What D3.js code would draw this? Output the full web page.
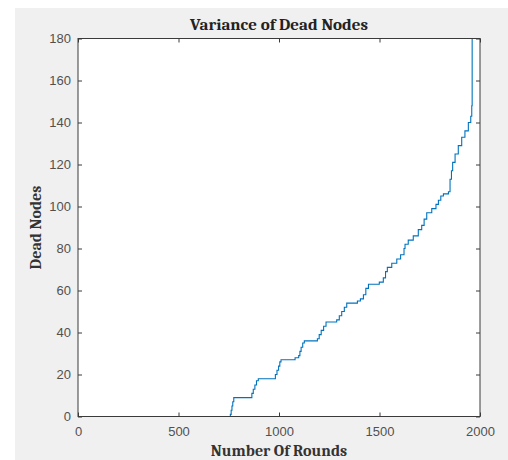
<!DOCTYPE html>
<html><head><meta charset="utf-8">
<script src="https://cdn.jsdelivr.net/npm/d3@7"></script>
<style>
html,body{margin:0;padding:0;background:#fff;}
svg{display:block;}
</style></head>
<body>
<svg id="chart" width="508" height="460"></svg>
<script>
// Data (step breakpoints: round -> cumulative dead nodes)
const rounds = [0, 756, 758, 762, 766, 770, 775, 859, 865, 872, 880, 888, 897, 975, 982, 990, 998, 1004, 1010,
  1080, 1098, 1104, 1110, 1118, 1126, 1191, 1200, 1210, 1222, 1234, 1287, 1300, 1312, 1325, 1337,
  1390, 1405, 1420, 1432, 1445, 1499, 1519, 1530, 1539, 1561, 1586, 1605, 1622, 1627, 1643, 1668,
  1693, 1710, 1722, 1735, 1760, 1781, 1793, 1805, 1818, 1843, 1851, 1858, 1864, 1876, 1892, 1909,
  1925, 1942, 1954, 1959, 1961];
const deadNodes = [0, 0, 1, 3, 5, 7, 9, 9, 11, 13, 15, 17, 18, 18, 20, 22, 24, 26, 27,
  28, 29, 31, 33, 35, 36, 37, 39, 41, 43, 45, 46, 48, 50, 52, 54,
  55, 56, 58, 61, 63, 64, 66, 69, 71, 73, 75, 77, 80, 82, 84, 86,
  89, 91, 94, 97, 99, 101, 103, 105, 106, 107, 113, 117, 121, 125, 129, 133,
  136, 140, 143, 148, 200];
const xTicks = [0, 500, 1000, 1500, 2000];
const yTicks = [0, 20, 40, 60, 80, 100, 120, 140, 160, 180];
const titleText = "Variance of Dead Nodes";
const xLabel = "Number Of Rounds";
const yLabel = "Dead Nodes";

const svg = d3.select("#chart");
const L = 78, R = 480, T = 38.5, B = 416.5;

svg.append("rect").attr("x", 15).attr("y", 8).attr("width", 508 - 15).attr("height", 460 - 8).attr("fill", "#f0f0f0");
svg.append("rect").attr("x", L).attr("y", T).attr("width", R - L).attr("height", B - T).attr("fill", "#fff");

const x = d3.scaleLinear().domain([0, 2000]).range([L, R]);
const y = d3.scaleLinear().domain([0, 180]).range([B, T]);

svg.append("defs").append("clipPath").attr("id", "clip")
  .append("rect").attr("x", L).attr("y", T).attr("width", R - L).attr("height", B - T);

const data = rounds.map((r, i) => [r, deadNodes[i]]);
const line = d3.line().x(d => x(d[0])).y(d => y(d[1])).curve(d3.curveStepAfter);
svg.append("path").datum(data).attr("clip-path", "url(#clip)")
  .attr("d", line).attr("fill", "none").attr("stroke", "#0072BD").attr("stroke-width", 1.1);

const axisColor = "#3a3a3a";
const fontTick = "'Liberation Sans', Arial, sans-serif";

function styleAxis(g, showLabels) {
  g.select(".domain").remove();
  g.selectAll(".tick line").attr("stroke", axisColor);
  g.selectAll(".tick text").attr("fill", "#505050").style("font-family", fontTick).style("font-size", "13px");
  if (!showLabels) g.selectAll(".tick text").remove();
}

svg.append("g").attr("transform", `translate(0,${B})`)
  .call(d3.axisBottom(x).tickValues(xTicks).tickSizeInner(-4).tickSizeOuter(0).tickPadding(10).tickFormat(d3.format("d")))
  .call(g => styleAxis(g, true));
svg.append("g").attr("transform", `translate(0,${T})`)
  .call(d3.axisTop(x).tickValues(xTicks).tickSizeInner(-4).tickSizeOuter(0))
  .call(g => styleAxis(g, false));
svg.append("g").attr("transform", `translate(${L},0)`)
  .call(d3.axisLeft(y).tickValues(yTicks).tickSizeInner(-4).tickSizeOuter(0).tickPadding(7).tickFormat(d3.format("d")))
  .call(g => styleAxis(g, true));
svg.append("g").attr("transform", `translate(${R},0)`)
  .call(d3.axisRight(y).tickValues(yTicks).tickSizeInner(-4).tickSizeOuter(0))
  .call(g => styleAxis(g, false));

svg.append("rect").attr("x", L).attr("y", T).attr("width", R - L).attr("height", B - T)
  .attr("fill", "none").attr("stroke", axisColor).attr("stroke-width", 1);

const serif = "Cambria, 'Liberation Serif', 'DejaVu Serif', serif";
svg.append("text").attr("x", (L + R) / 2).attr("y", 30).attr("text-anchor", "middle")
  .style("font-family", serif).style("font-weight", "bold").style("font-size", "17px").attr("fill", "#222")
  .text(titleText);
svg.append("text").attr("x", (L + R) / 2).attr("y", 456).attr("text-anchor", "middle")
  .style("font-family", serif).style("font-weight", "bold").style("font-size", "16px").attr("fill", "#333")
  .text(xLabel);
svg.append("text").attr("transform", `translate(41,${(T + B) / 2}) rotate(-90)`).attr("text-anchor", "middle")
  .style("font-family", serif).style("font-weight", "bold").style("font-size", "16px").attr("fill", "#333")
  .text(yLabel);
</script>
</body></html>
